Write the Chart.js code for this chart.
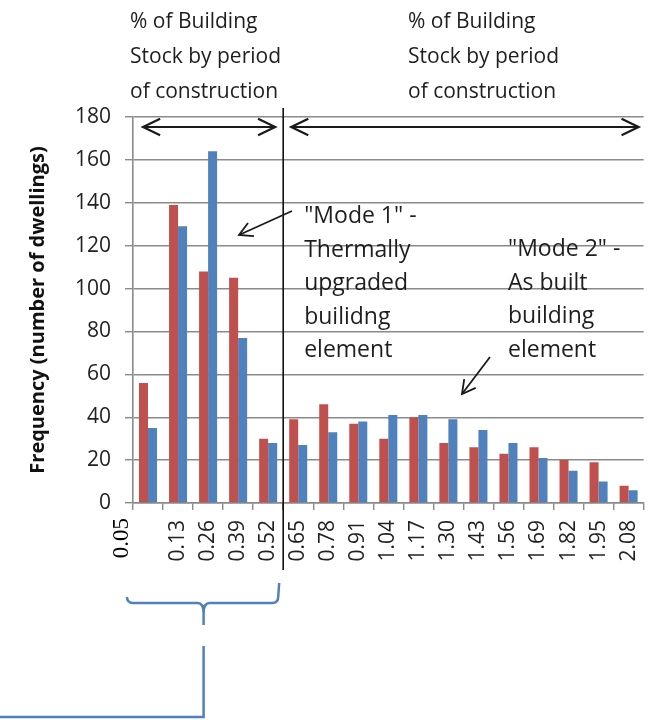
<!DOCTYPE html>
<html>
<head>
<meta charset="utf-8">
<title>Frequency by U-value</title>
<script src="https://cdn.jsdelivr.net/npm/chart.js@4/dist/chart.umd.min.js"></script>
<style>
  html, body { margin: 0; padding: 0; background: #fff; }
  #wrap { position: relative; width: 664px; height: 723px; }
</style>
</head>
<body>
<div id="wrap"><canvas id="chart" width="664" height="723"></canvas></div>
<script>
// categories on the x axis (the first one is drawn at the left edge, like the original)
const categories = ['0.05', '0.13', '0.26', '0.39', '0.52', '0.65', '0.78', '0.91', '1.04',
  '1.17', '1.30', '1.43', '1.56', '1.69', '1.82', '1.95', '2.08'];

// frequencies
const series1 = [56, 139, 108, 105, 30, 39, 46, 37, 30, 40, 28, 26, 23, 26, 20, 19, 8];
const series2 = [35, 129, 164, 77, 28, 27, 33, 38, 41, 41, 39, 34, 28, 21, 15, 10, 6];

const yTicks = [0, 20, 40, 60, 80, 100, 120, 140, 160, 180];

const headerLines = ['% of Building', 'Stock by period', 'of construction'];
const mode1Lines = ['"Mode 1" -', 'Thermally', 'upgraded', 'builidng', 'element'];
const mode2Lines = ['"Mode 2" -', 'As built', 'building', 'element'];

const RED = '#C0504D';
const BLUE = '#4F81BD';
const GRID = '#8a8a8a';
const SANS = '"Open Sans", "DejaVu Sans", sans-serif';

// split index: first 5 categories belong to the "Mode 1" block
const splitAfter = 4;

function arrowHead(ctx, x1, y1, x2, y2, len, spread) {
  const a = Math.atan2(y2 - y1, x2 - x1);
  ctx.beginPath();
  ctx.moveTo(x2 + len * Math.cos(a + Math.PI - spread), y2 + len * Math.sin(a + Math.PI - spread));
  ctx.lineTo(x2, y2);
  ctx.lineTo(x2 + len * Math.cos(a + Math.PI + spread), y2 + len * Math.sin(a + Math.PI + spread));
  ctx.stroke();
}

function line(ctx, x1, y1, x2, y2) {
  ctx.beginPath();
  ctx.moveTo(x1, y1);
  ctx.lineTo(x2, y2);
  ctx.stroke();
}

const overlay = {
  id: 'overlay',
  afterDraw(chart) {
    const ctx = chart.ctx;
    const x = chart.scales.x;
    const y = chart.scales.y;
    const area = chart.chartArea;
    const splitX = (x.getPixelForValue(splitAfter) + x.getPixelForValue(splitAfter + 1)) / 2;
    const topY = y.getPixelForValue(180);

    ctx.save();

    // first category label sits left of the axis, in a serif face
    ctx.save();
    ctx.translate(area.left - 11, area.bottom + 15);
    ctx.rotate(-Math.PI / 2);
    ctx.font = '23px "Liberation Serif", "DejaVu Serif", serif';
    ctx.fillStyle = '#000';
    ctx.textAlign = 'right';
    ctx.textBaseline = 'middle';
    ctx.fillText(categories[0], 0, 0);
    ctx.restore();

    // vertical divider
    ctx.strokeStyle = '#111';
    ctx.lineWidth = 1.6;
    line(ctx, splitX, topY - 9, splitX, area.bottom + 67);

    // double arrows
    const ay = topY + 10;
    ctx.lineWidth = 2.2;
    ctx.strokeStyle = '#1a1a1a';
    const l1 = area.left + 10, r1 = splitX - 8;
    const l2 = splitX + 8, r2 = area.right - 5;
    line(ctx, l1, ay, r1, ay);
    arrowHead(ctx, r1, ay, l1, ay, 19, 0.45);
    arrowHead(ctx, l1, ay, r1, ay, 19, 0.45);
    line(ctx, l2, ay, r2, ay);
    arrowHead(ctx, r2, ay, l2, ay, 19, 0.45);
    arrowHead(ctx, l2, ay, r2, ay, 19, 0.45);

    // header texts
    ctx.font = '21px ' + SANS;
    ctx.fillStyle = '#1e1e1e';
    ctx.textAlign = 'left';
    ctx.textBaseline = 'alphabetic';
    headerLines.forEach((t, i) => {
      ctx.fillText(t, area.left - 3, 28 + i * 35);
      ctx.fillText(t, 408, 28 + i * 35);
    });

    // mode annotations
    ctx.font = '23px ' + SANS;
    mode1Lines.forEach((t, i) => ctx.fillText(t, splitX + 21, 223 + i * 33.5));
    mode2Lines.forEach((t, i) => ctx.fillText(t, 508, 256 + i * 33.5));

    ctx.lineWidth = 1.8;
    line(ctx, 292, 211, 239, 235);
    arrowHead(ctx, 292, 211, 239, 235, 15, 0.5);
    line(ctx, 490, 357, 462, 394);
    arrowHead(ctx, 490, 357, 462, 394, 15, 0.5);

    // blue bracket under the first block
    const bl = area.left - 6, br = splitX - 5, mid = (bl + br) / 2 + 1;
    const by = 603;
    ctx.strokeStyle = BLUE;
    ctx.lineWidth = 2.5;
    ctx.beginPath();
    ctx.moveTo(bl, by - 6);
    ctx.quadraticCurveTo(bl, by, bl + 6, by);
    ctx.lineTo(mid - 6, by);
    ctx.quadraticCurveTo(mid, by, mid, by + 10);
    ctx.lineTo(mid, by + 22);
    ctx.moveTo(mid, by + 10);
    ctx.quadraticCurveTo(mid, by, mid + 6, by);
    ctx.lineTo(br - 6, by);
    ctx.quadraticCurveTo(br, by, br, by - 6);
    ctx.lineTo(br + 1, by - 20);
    ctx.stroke();

    ctx.beginPath();
    ctx.moveTo(mid, by + 43);
    ctx.lineTo(mid, 717);
    ctx.lineTo(0, 717);
    ctx.stroke();

    ctx.restore();
  }
};

function draw() {
  new Chart(document.getElementById('chart'), {
    type: 'bar',
    data: {
      labels: categories,
      datasets: [
        { label: 'Series 1', data: series1, backgroundColor: RED, borderWidth: 0 },
        { label: 'Series 2', data: series2, backgroundColor: BLUE, borderWidth: 0 }
      ]
    },
    options: {
      responsive: false,
      animation: false,
      devicePixelRatio: 1,
      datasets: { bar: { categoryPercentage: 0.6, barPercentage: 1.0 } },
      layout: { padding: { top: 117, right: 6, left: 0, bottom: 0 } },
      plugins: {
        legend: { display: false },
        tooltip: { enabled: false }
      },
      scales: {
        x: {
          afterFit: (s) => { s.height = 220; },
          grid: {
            display: true,
            drawOnChartArea: false,
            drawTicks: true,
            tickLength: 7,
            color: GRID,
            lineWidth: 1.4
          },
          border: { color: GRID, width: 1.6 },
          ticks: {
            autoSkip: false,
            minRotation: 90,
            maxRotation: 90,
            padding: 10,
            color: '#222',
            font: { family: SANS, size: 21 },
            callback: (v, i) => (i === 0 ? '' : categories[i])
          }
        },
        y: {
          min: yTicks[0],
          max: yTicks[yTicks.length - 1],
          afterFit: (s) => { s.width = 133; },
          afterBuildTicks: (s) => { s.ticks = yTicks.map(v => ({ value: v })); },
          grid: { color: GRID, lineWidth: 1.4, tickLength: 8 },
          border: { color: GRID, width: 1.6 },
          ticks: {
            padding: 14,
            color: '#222',
            font: { family: SANS, size: 21 }
          },
          title: {
            display: true,
            text: 'Frequency (number of dwellings)',
            color: '#111',
            font: { family: SANS, size: 20, weight: 'bold' },
            padding: { top: 26, bottom: 0 }
          }
        }
      }
    },
    plugins: [overlay]
  });
}

if (document.fonts && document.fonts.load) {
  Promise.all([
    document.fonts.load('21px "Open Sans"'),
    document.fonts.load('bold 20px "Open Sans"'),
    document.fonts.load('23px "Liberation Serif"')
  ]).then(draw, draw);
} else {
  draw();
}
</script>
</body>
</html>
